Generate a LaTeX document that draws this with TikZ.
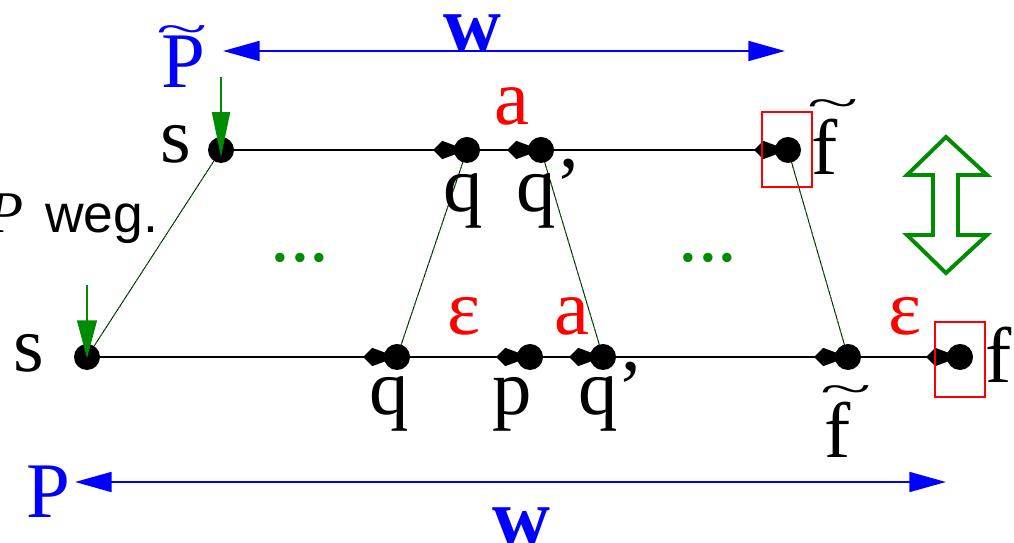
\documentclass[tikz,border=0pt]{standalone}
\usepackage{fontspec}
\setmainfont{Liberation Serif}
\newfontfamily\sansf{Liberation Sans}
\usetikzlibrary{arrows.meta,backgrounds}
\definecolor{dgreen}{RGB}{0,140,0}
\newcommand{\widetil}{\scalebox{1.2}[0.55]{\char`\~}}
\begin{document}
\begin{tikzpicture}[x=0.025cm,y=-0.025cm,
  dot/.style={circle,fill=black,inner sep=0pt,minimum size=0.65cm},
  lbl/.style={inner sep=0pt,font=\fontsize{56}{56}\selectfont},
  red lbl/.style={lbl,text=red},
  blue lbl/.style={lbl,text=blue},
  wlbl/.style={inner sep=0pt,text=blue,font=\fontsize{57}{57}\selectfont\bfseries},
  main/.style={draw=black,line width=1.4pt,-{Kite[length=24pt,width=13pt,inset=6.4pt]}},
  diag/.style={draw=black,line width=0.6pt,postaction={draw=dgreen,dash pattern=on 3pt off 3pt}},
  barrow/.style={draw=blue,line width=1.9pt,{Triangle[length=26pt,width=14pt]}-{Triangle[length=26pt,width=14pt]}},
  garrow/.style={draw=dgreen,line width=1.4pt,-{Triangle[length=30pt,width=13pt]}},
  rbox/.style={draw=red,line width=1.2pt}]
\clip (0,0) rectangle (1014,543);
% dots
\node[dot] (ts) at (221,150) {};
\node[dot] (tq) at (467,150) {};
\node[dot] (tqp) at (541,150) {};
\node[dot] (tf) at (788,150) {};
\node[dot] (bs) at (87,357) {};
\node[dot] (bq) at (397,357) {};
\node[dot] (bp) at (530,357) {};
\node[dot] (bqp) at (603,357) {};
\node[dot] (bft) at (848,357) {};
\node[dot] (bf) at (960,357) {};
\begin{scope}[on background layer]
\draw[main] (ts.center) -- (tq.center);
\draw[main] (tq.center) -- (tqp.center);
\draw[main] (tqp.center) -- (tf.center);
\draw[main] (bs.center) -- (bq.center);
\draw[main] (bq.center) -- (bp.center);
\draw[main] (bp.center) -- (bqp.center);
\draw[main] (bqp.center) -- (bft.center);
\draw[main] (bft.center) -- (bf.center);
\draw[diag] (ts.center) -- (bs.center);
\draw[diag] (tq.center) -- (bq.center);
\draw[diag] (tqp.center) -- (bqp.center);
\draw[diag] (tf.center) -- (bft.center);
\end{scope}
% green arrows
\coordinate (gt) at (221,77);
\coordinate (gb) at (87,285);
\draw[garrow,-{Triangle[length=32pt,width=12.8pt]}] (gt) -- ([yshift=-5pt]ts.center);
\draw[garrow,-{Triangle[length=27pt,width=14pt]}] (gb) -- ([yshift=-1pt]bs.center);
% red boxes
\draw[rbox] (762,112) rectangle (812,187);
\draw[rbox] (935,322) rectangle (985,397);
% blue arrows
\coordinate (wl) at (223,51);
\coordinate (wr) at (785,51);
\coordinate (Wl) at (75,482);
\coordinate (Wr) at (946,482);
\draw[barrow] (wl) -- (wr);
\draw[barrow] (Wl) -- (Wr);
% labels top
\node[blue lbl,anchor=base] (Pt) at (183,88) {P};
\node[blue lbl,anchor=base] (Ptt) at (182,44) {\widetil};
\node[wlbl,anchor=base] (w1) at (472,52) {w};
\node[lbl,anchor=base] (lts) at (176,163) {s};
\node[lbl,anchor=base] (ltq) at (463,212) {q};
\node[lbl,anchor=base west] (ltqp) at (516,212) {q’};
\node[red lbl,anchor=base] (la1) at (512,125) {a};
\node[lbl,anchor=base west] (ltf) at (811,175) {f};
\node[lbl,anchor=base] (ltft) at (833,118) {\widetil};
% P weg.
\node[inner sep=0pt,anchor=base east,font=\fontsize{42}{42}\selectfont\itshape] (Pw) at (24,233) {P};
\node[inner sep=0pt,anchor=base west,font=\fontsize{38}{38}\selectfont\sansf] (weg) at (45,233) {weg.};
% dots green
\node[lbl,text=dgreen,anchor=base] (d1) at (300,262) {...};
\node[lbl,text=dgreen,anchor=base] (d2) at (708,262) {...};
% bottom labels
\node[lbl,anchor=base] (lbs) at (29,372) {s};
\node[lbl,anchor=base] (lbq) at (389,415) {q};
\node[lbl,anchor=base] (lbp) at (512,415) {p};
\node[lbl,anchor=base west] (lbqp) at (578,415) {q’};
\node[lbl,anchor=base] (lbft) at (838,458) {f};
\node[lbl,anchor=base] (lbftt) at (846,404) {\widetil};
\node[lbl,anchor=base west] (lbf) at (985,383) {f};
\node[red lbl,anchor=base] (le1) at (464,335) {ε};
\node[red lbl,anchor=base] (la2) at (572,335) {a};
\node[red lbl,anchor=base] (le2) at (905,335) {ε};
\node[blue lbl,anchor=base] (Pb) at (48,518) {P};
\node[wlbl,anchor=base] (w2) at (521,545) {w};
% double arrow
\draw[draw=dgreen,line width=2.8pt,line join=miter] (946,137) -- (987,175) -- (958,175) -- (958,235) -- (987,235) -- (946,273) -- (907,235) -- (933,235) -- (933,175) -- (907,175) -- cycle;
\end{tikzpicture}
\end{document}
